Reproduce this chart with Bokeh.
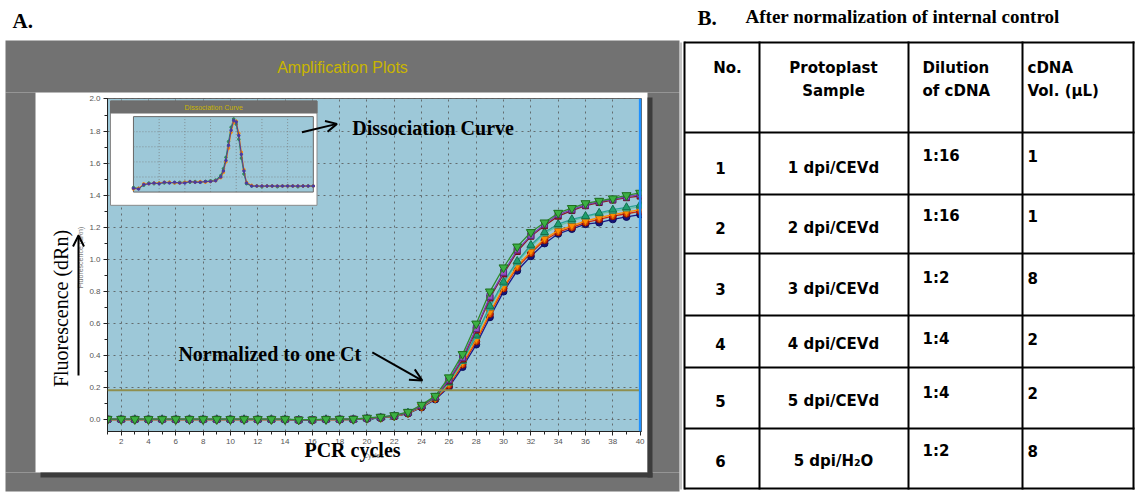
import math
from bokeh.plotting import figure
from bokeh.models import (Range1d, SingleIntervalTicker, PrintfTickFormatter, Label,
                          Arrow, OpenHead, Span, GridBox)
from bokeh.core.properties import value
from bokeh.embed import file_html
from bokeh.resources import INLINE

W, H = 1136, 493

# ---------------- data: amplification plot ----------------
cycles = list(range(1, 41))
green = [0.006, 0.006, 0.005, 0.005, 0.005, 0.005, 0.005, 0.005, 0.005, 0.005,
         0.005, 0.005, 0.005, 0.005, 0.002, 0.002, 0.005, 0.006, 0.006, 0.013,
         0.019, 0.029, 0.050, 0.094, 0.150, 0.265, 0.410, 0.600, 0.800, 0.950,
         1.080, 1.170, 1.230, 1.290, 1.320, 1.350, 1.365, 1.380, 1.400, 1.415]
purple = [0.005, 0.005, 0.004, 0.004, 0.004, 0.004, 0.004, 0.004, 0.004, 0.004,
          0.004, 0.004, 0.004, 0.004, 0.001, 0.001, 0.004, 0.005, 0.005, 0.011,
          0.017, 0.027, 0.047, 0.090, 0.145, 0.250, 0.390, 0.570, 0.770, 0.920,
          1.060, 1.150, 1.220, 1.280, 1.310, 1.340, 1.360, 1.375, 1.390, 1.405]
darkred = [0.004, 0.004, 0.004, 0.004, 0.004, 0.004, 0.004, 0.004, 0.004, 0.004,
           0.004, 0.004, 0.004, 0.004, 0.001, 0.001, 0.004, 0.004, 0.005, 0.010,
           0.016, 0.026, 0.046, 0.088, 0.143, 0.245, 0.380, 0.560, 0.760, 0.910,
           1.050, 1.145, 1.210, 1.270, 1.305, 1.335, 1.355, 1.370, 1.385, 1.395]
teal = [0.004, 0.004, 0.004, 0.004, 0.004, 0.004, 0.004, 0.004, 0.004, 0.004,
        0.004, 0.004, 0.004, 0.004, 0.001, 0.001, 0.004, 0.004, 0.004, 0.010,
        0.015, 0.025, 0.045, 0.086, 0.140, 0.235, 0.370, 0.530, 0.710, 0.860,
        0.990, 1.090, 1.170, 1.220, 1.250, 1.270, 1.290, 1.310, 1.325, 1.340]
lightgreen = [0.004, 0.004, 0.004, 0.004, 0.004, 0.004, 0.004, 0.004, 0.004, 0.004,
              0.004, 0.004, 0.004, 0.004, 0.001, 0.001, 0.004, 0.004, 0.004, 0.010,
              0.015, 0.025, 0.045, 0.085, 0.138, 0.230, 0.365, 0.520, 0.700, 0.850,
              0.980, 1.080, 1.160, 1.210, 1.240, 1.265, 1.285, 1.300, 1.315, 1.330]
orange = [0.003, 0.003, 0.003, 0.003, 0.003, 0.003, 0.003, 0.003, 0.003, 0.003,
          0.003, 0.003, 0.003, 0.003, 0.000, 0.000, 0.003, 0.003, 0.004, 0.009,
          0.014, 0.024, 0.043, 0.083, 0.135, 0.225, 0.355, 0.500, 0.670, 0.830,
          0.960, 1.050, 1.130, 1.180, 1.210, 1.240, 1.260, 1.280, 1.295, 1.310]
red = [0.003, 0.003, 0.003, 0.003, 0.003, 0.003, 0.003, 0.003, 0.003, 0.003,
       0.003, 0.003, 0.003, 0.003, 0.000, 0.000, 0.003, 0.003, 0.003, 0.008,
       0.013, 0.023, 0.042, 0.081, 0.132, 0.215, 0.345, 0.490, 0.660, 0.820,
       0.950, 1.040, 1.120, 1.170, 1.200, 1.230, 1.250, 1.270, 1.285, 1.300]
navy = [0.002, 0.002, 0.002, 0.002, 0.002, 0.002, 0.002, 0.002, 0.002, 0.002,
        0.002, 0.002, 0.002, 0.002, 0.000, 0.000, 0.002, 0.002, 0.003, 0.007,
        0.012, 0.022, 0.040, 0.078, 0.128, 0.205, 0.330, 0.470, 0.640, 0.800,
        0.930, 1.020, 1.100, 1.160, 1.190, 1.220, 1.230, 1.250, 1.265, 1.280]
threshold = 0.186

# ---------------- data: dissociation (melt) curve inset ----------------
temps = [60, 61, 62, 63, 64, 65, 66, 67, 68, 69, 70, 71, 72, 73, 74, 75, 76, 77,
         77.5, 78, 78.5, 79, 79.5, 80, 80.5, 81, 81.5, 82,
         83, 84, 85, 86, 87, 88, 89, 90, 91, 92, 93, 94, 95]
melt_a = [0.05, 0.04, 0.10, 0.11, 0.12, 0.11, 0.13, 0.12, 0.13, 0.12, 0.12, 0.14, 0.13, 0.13,
          0.14, 0.14, 0.15, 0.20, 0.28, 0.42, 0.62, 0.82, 0.95, 0.93, 0.75, 0.50, 0.28, 0.12,
          0.08, 0.08, 0.08, 0.08, 0.08, 0.08, 0.08, 0.08, 0.08, 0.08, 0.08, 0.08, 0.08]
melt_b = [0.06, 0.05, 0.09, 0.12, 0.11, 0.12, 0.12, 0.13, 0.12, 0.13, 0.13, 0.13, 0.14, 0.13,
          0.14, 0.15, 0.16, 0.22, 0.31, 0.46, 0.67, 0.86, 0.97, 0.90, 0.70, 0.45, 0.24, 0.11,
          0.08, 0.08, 0.07, 0.08, 0.08, 0.07, 0.08, 0.08, 0.08, 0.07, 0.08, 0.08, 0.08]
melt_c = [0.04, 0.05, 0.11, 0.11, 0.12, 0.12, 0.13, 0.13, 0.12, 0.12, 0.13, 0.14, 0.13, 0.14,
          0.13, 0.14, 0.15, 0.19, 0.26, 0.40, 0.58, 0.79, 0.92, 0.94, 0.78, 0.53, 0.30, 0.13,
          0.09, 0.08, 0.08, 0.08, 0.08, 0.08, 0.08, 0.08, 0.08, 0.08, 0.08, 0.08, 0.08]
melt_grid_t = [65, 70, 75, 80, 85, 90]
melt_grid_v = [0.2, 0.4, 0.6, 0.8]

# ---------------- data: table ----------------
headers = ["No.", "Protoplast\nSample", "Dilution\nof cDNA", "cDNA\nVol. (\u00b5L)"]
row_no = ["1", "2", "3", "4", "5", "6"]
samples = ["1 dpi/CEVd", "2 dpi/CEVd", "3 dpi/CEVd", "4 dpi/CEVd", "5 dpi/CEVd", "5 dpi/H\u2082O"]
dilutions = ["1:16", "1:16", "1:2", "1:4", "1:4", "1:2"]
volumes = ["1", "1", "8", "2", "2", "8"]

# ================= base figure: the amplification plot =================
FL, FR, FT, FB = 107, 641, 98, 431
p = figure(width=W, height=H, x_range=Range1d(1, 40.1), y_range=Range1d(-0.0717, 2.003),
           output_backend="svg", toolbar_location=None, frame_align=False,
           min_border_left=FL, min_border_right=W - FR, min_border_top=FT, min_border_bottom=H - FB,
           background_fill_color="#9dc8d8", border_fill_color="white",
           outline_line_color="#666666")

xa, ya = p.xaxis[0], p.yaxis[0]
xa.ticker = SingleIntervalTicker(interval=2, num_minor_ticks=2)
ya.ticker = SingleIntervalTicker(interval=0.2, num_minor_ticks=2)
ya.formatter = PrintfTickFormatter(format="%.1f")
for ax in (xa, ya):
    ax.axis_line_color = "#222222"
    ax.major_tick_line_color = "#222222"
    ax.minor_tick_line_color = "#222222"
    ax.major_tick_in = 0
    ax.major_tick_out = 4
    ax.minor_tick_in = 0
    ax.minor_tick_out = 3
    ax.major_label_text_font = "Liberation Sans"
    ax.major_label_text_font_size = "8px"
    ax.major_label_text_color = "#555555"
    ax.major_label_standoff = 3
for g in (p.xgrid[0], p.ygrid[0]):
    g.grid_line_color = "#555555"
    g.grid_line_alpha = 0.8
    g.grid_line_dash = "2 4"

styles = [
    (navy, "#1a1a8a", "circle", 7, "#141478", "#0c0c5c"),
    (red, "#cc2a10", "circle", 7, "#d02010", "#8a1000"),
    (orange, "#ff8c00", "inverted_triangle", 8, "#ff8c00", "#c86000"),
    (lightgreen, "#66c2a0", "triangle", 7, "#5cc59a", "#2e8b67"),
    (teal, "#2aa198", "triangle", 8, "#1f9e6e", "#13704c"),
    (darkred, "#8b1a1a", "square", 6, "#a02030", "#6a0a18"),
    (purple, "#7a3fb0", "square", 6, "#9a4fc0", "#5a2a8a"),
    (green, "#2e8b2e", "inverted_triangle", 9, "#3cb043", "#1e6e1e"),
]
for vals, lc, mk, sz, fc, oc in styles:
    p.line(cycles, vals, line_color=lc, line_width=1.3)
    p.scatter(cycles, vals, marker=mk, size=sz, fill_color=fc, line_color=oc, line_width=1)

p.add_layout(Span(location=threshold, dimension="width", line_color="#8f8f4f", line_width=2))
p.add_layout(Span(location=40, dimension="height", line_color="#1e90ff", line_width=2.5))

# inset: dissociation curve
p.quad(left=1.22, right=16.34, bottom=1.3375, top=1.9875, fill_color="white", line_color="#8a8a8a")
p.quad(left=1.22, right=16.34, bottom=1.9125, top=1.9875, fill_color="#6e6e6e", line_color="#6e6e6e")
p.quad(left=2.9, right=16.07, bottom=1.42, top=1.89, fill_color="#9dc8d8", line_color="#666666")
p.add_layout(Label(x=8.78, y=1.95, text="Dissociation Curve", text_font="Liberation Sans",
                   text_font_size="7px", text_color="#c9b500", text_align="center",
                   text_baseline="middle"))
ins = p.subplot(x_source=Range1d(60, 95), y_source=Range1d(0, 1),
                x_target=Range1d(2.9, 16.07), y_target=Range1d(1.42, 1.89))
ins.segment(x0=melt_grid_t, y0=[0] * len(melt_grid_t), x1=melt_grid_t, y1=[1] * len(melt_grid_t),
            line_color="#777777", line_dash="1 2", line_width=0.7)
ins.segment(x0=[60] * len(melt_grid_v), y0=melt_grid_v, x1=[95] * len(melt_grid_v), y1=melt_grid_v,
            line_color="#777777", line_dash="1 2", line_width=0.7)
for vals, lc in ((melt_b, "#2e8b57"), (melt_c, "#ff8c00"), (melt_a, "#4a3aa0")):
    ins.line(temps, vals, line_color=lc, line_width=1)
    ins.scatter(temps, vals, size=2.5, fill_color=lc, line_color=lc)


def dlabel(text, x, y, size, style="bold"):
    p.add_layout(Label(x=x, y=y, text=text, text_font="Liberation Serif",
                       text_font_size=f"{size}px", text_font_style=style, text_color="black",
                       text_align="left", text_baseline="middle"))


dlabel("Dissociation Curve", 18.92, 1.822, 20)
dlabel("Normalized to one Ct", 6.19, 0.414, 20)
p.add_layout(Arrow(end=OpenHead(size=11, line_width=2, line_color="black"),
                   x_start=15.24, y_start=1.793, x_end=17.8, y_end=1.845,
                   line_width=2, line_color="black"))
p.add_layout(Arrow(end=OpenHead(size=12, line_width=2, line_color="black"),
                   x_start=20.39, y_start=0.4206, x_end=24.05, y_end=0.246,
                   line_width=2, line_color="black"))

# ================= overlay figure: page decorations (pixel coordinates) =================
o = figure(width=W, height=H, x_range=Range1d(0, W), y_range=Range1d(H, 0),
           output_backend="svg", toolbar_location=None, frame_align=False,
           min_border=0, min_border_left=0, min_border_right=0, min_border_top=0, min_border_bottom=0,
           background_fill_alpha=0, border_fill_alpha=0, outline_line_color=None)
o.axis.visible = False
o.grid.visible = False

GRAY = "#727272"
ring_l = [5, 5, 5, 647]
ring_r = [679, 679, 35, 679]
ring_t = [40, 472, 92, 92]
ring_b = [92, 491, 472, 472]
o.quad(left=ring_l, right=ring_r, top=ring_t, bottom=ring_b, fill_color=GRAY, line_color=None)
o.quad(left=[647, 40], right=[652, 652], top=[97, 472], bottom=[477, 477],
       fill_color="#3c3c3c", line_color=None)


def otext(texts, xs, ys, size, font="Liberation Serif", style="bold", color="black",
          align="left", angle=0.0):
    o.text(x=xs, y=ys, text=texts, text_font=value(font), text_font_size=value(f"{size}px"),
           text_font_style=style, text_color=color, text_align=align,
           text_baseline="middle", angle=angle)


otext(["A."], [12], [20], 21)
otext(["Amplification Plots"], [342], [67], 16, font="Liberation Sans", style="normal",
      color="#c9b500", align="center")
otext(["Fluorescence (dRn)"], [80], [257], 7, font="Liberation Sans", style="normal",
      color="#777777", align="center", angle=math.pi / 2)
otext(["Cycles"], [373], [455], 7, font="Liberation Sans", style="normal",
      color="#777777", align="center")
otext(["Fluorescence (dRn)"], [60], [308], 20, style="normal", align="center", angle=math.pi / 2)
otext(["PCR cycles"], [352], [449], 20, align="center")
o.add_layout(Arrow(end=OpenHead(size=11, line_width=2, line_color="black"),
                   x_start=78, y_start=375, x_end=78, y_end=235,
                   line_width=2, line_color="black"))

# panel B table
otext(["B."], [697], [17], 21)
otext(["After normalization of internal control"], [745], [16], 19)

h_lines = [42, 132, 194, 253, 315, 367, 428, 488]
v_lines = [684, 759, 908, 1022, 1133]
o.segment(x0=[684] * len(h_lines), y0=h_lines, x1=[1134] * len(h_lines), y1=h_lines,
          line_color="black", line_width=2)
o.segment(x0=v_lines, y0=[41] * len(v_lines), x1=v_lines, y1=[489] * len(v_lines),
          line_color="black", line_width=2)
o.segment(x0=[680.5], y0=[42], x1=[680.5], y1=[489], line_color="#888888", line_width=1)

TF = "DejaVu Sans"
hdr1 = [h.split("\n")[0] for h in headers]
hdr2 = [h.split("\n")[1] for h in headers[1:]]
otext(hdr1[:2], [727, 833], [67, 67], 15, font=TF, align="center")
otext(hdr2[:1], [833], [90], 15, font=TF, align="center")
otext(hdr1[2:], [922, 1027], [67, 67], 15, font=TF)
otext(hdr2[1:], [922, 1027], [90, 90], 15, font=TF)

row_mid = [167, 227, 288, 343, 400, 460]
row_top = [155, 215, 277, 338, 392, 450]
n = len(row_no)
otext(row_no, [720] * n, row_mid, 15, font=TF, align="center")
otext(samples, [833] * n, row_mid, 15, font=TF, align="center")
otext(dilutions, [922] * n, row_top, 15, font=TF)
otext(volumes, [1027] * n, row_top, 15, font=TF)

layout = GridBox(children=[(p, 0, 0), (o, 0, 0)])
open("out.html", "w").write(file_html(layout, INLINE))
